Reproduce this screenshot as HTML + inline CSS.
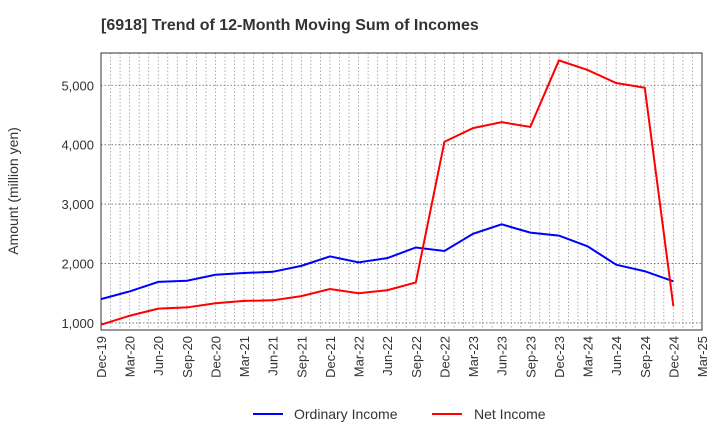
<!DOCTYPE html>
<html><head><meta charset="utf-8"><style>
body{margin:0;background:#fff;font-family:"Liberation Sans",sans-serif}
</style></head><body>
<svg id="c" width="720" height="440" xmlns="http://www.w3.org/2000/svg" font-family="Liberation Sans, sans-serif">
<text x="101" y="30" font-size="16" font-weight="bold" fill="#333">[6918]  Trend of 12-Month Moving Sum of Incomes</text>
<text transform="translate(18,191) rotate(-90)" text-anchor="middle" font-size="14" fill="#333">Amount (million yen)</text>
<g id="grid"></g><g id="axes"></g><g id="series"></g>
<g>
<line x1="253" y1="414" x2="283" y2="414" stroke="#0000ff" stroke-width="2"/>
<text x="294" y="419" font-size="14" fill="#333">Ordinary Income</text>
<line x1="432" y1="414" x2="462" y2="414" stroke="#ff0000" stroke-width="2"/>
<text x="474" y="419" font-size="14" fill="#333">Net Income</text>
</g>
</svg>
<script>
const categories=["Dec-19","Mar-20","Jun-20","Sep-20","Dec-20","Mar-21","Jun-21","Sep-21","Dec-21","Mar-22","Jun-22","Sep-22","Dec-22","Mar-23","Jun-23","Sep-23","Dec-23","Mar-24","Jun-24","Sep-24","Dec-24","Mar-25"];
const ordinaryIncome=[1400,1530,1690,1710,1810,1840,1860,1960,2120,2020,2090,2270,2210,2500,2660,2520,2470,2290,1980,1870,1700];
const netIncome=[970,1120,1240,1260,1330,1370,1380,1450,1570,1500,1550,1680,4050,4280,4380,4300,5420,5260,5040,4960,1280];
const yTicks=[1000,2000,3000,4000,5000];
const L=101,R=702,T=53,B=330,YMIN=880,YMAX=5545;
const NS="http://www.w3.org/2000/svg";
const xs=i=>L+(R-L)*i/(categories.length-1);
const ys=v=>B-(v-YMIN)/(YMAX-YMIN)*(B-T);
function mk(tag,attrs,parent,txt){const e=document.createElementNS(NS,tag);for(const k in attrs)e.setAttribute(k,attrs[k]);if(txt!=null)e.textContent=txt;document.getElementById(parent).appendChild(e);return e;}
const nM=(categories.length-1)*3;
for(let m=1;m<nM;m++){const x=L+(R-L)*m/nM;const e=mk('line',{x1:x,y1:T,x2:x,y2:B,stroke:'#999','stroke-dasharray':'1.5,2','stroke-width':0.8},'grid');

}
yTicks.forEach(v=>{const y=ys(v);const g=mk('line',{x1:L,y1:y,x2:R,y2:y,stroke:'#777','stroke-dasharray':'1.5,2','stroke-width':0.9},'grid');


const t=mk('text',{x:L-7,y:y+5,'text-anchor':'end','font-size':13,fill:'#333'},'axes',v.toLocaleString('en-US'));

});
const fr=mk('rect',{x:L,y:T,width:R-L,height:B-T,fill:'none',stroke:'#333','stroke-width':1},'axes');


categories.forEach((c,i)=>{const x=xs(i);const t=mk('text',{transform:`translate(${x+5},${B+6}) rotate(-90)`,'text-anchor':'end','font-size':13,fill:'#333'},'axes',c);

});
function line(data,color,name){const p=mk('polyline',{points:data.map((v,i)=>xs(i)+','+ys(v)).join(' '),fill:'none',stroke:color,'stroke-width':2},'series');

}
line(ordinaryIncome,'#0000ff','ordinary-income-line');
line(netIncome,'#ff0000','net-income-line');
</script>
</body></html>
